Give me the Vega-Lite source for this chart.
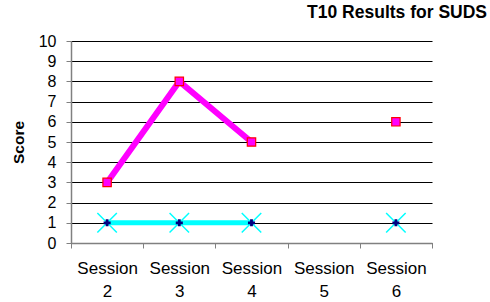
{
  "$schema": "https://vega.github.io/schema/vega-lite/v6.json",
  "width": 361,
  "height": 202,
  "autosize": "none",
  "padding": {"left": 71, "top": 41, "right": 58, "bottom": 59},
  "background": "white",
  "config": {
    "view": {"stroke": null},
    "font": "Liberation Sans"
  },
  "title": {
    "text": "T10 Results for SUDS",
    "anchor": "end",
    "frame": "group",
    "dx": 55,
    "offset": 12,
    "fontSize": 17.5,
    "fontWeight": "bold",
    "font": "Liberation Sans",
    "color": "black"
  },
  "data": {
    "values": [
      {"session": "Session 2", "series": "A", "seg": "A1", "value": 3},
      {"session": "Session 3", "series": "A", "seg": "A1", "value": 8},
      {"session": "Session 4", "series": "A", "seg": "A1", "value": 5},
      {"session": "Session 6", "series": "A", "seg": "A2", "value": 6},
      {"session": "Session 2", "series": "B", "seg": "B1", "value": 1},
      {"session": "Session 3", "series": "B", "seg": "B1", "value": 1},
      {"session": "Session 4", "series": "B", "seg": "B1", "value": 1},
      {"session": "Session 6", "series": "B", "seg": "B2", "value": 1}
    ]
  },
  "encoding": {
    "x": {
      "field": "session",
      "type": "ordinal",
      "scale": {"type": "band", "paddingInner": 0, "paddingOuter": 0,
        "domain": ["Session 2", "Session 3", "Session 4", "Session 5", "Session 6"]},
      "axis": {
        "title": null,
        "labelAngle": 0,
        "labelExpr": "datum.label ? ['Session', split(datum.label, ' ')[1]] : ''",
        "labelFontSize": 17,
        "labelColor": "black",
        "labelPadding": 12,
        "labelLineHeight": 23,
        "labelOverlap": false,
        "tickBand": "extent",
        "tickColor": "#808080",
        "tickSize": 5,
        "domainColor": "#808080",
        "domainWidth": 1.5
      }
    },
    "y": {
      "field": "value",
      "type": "quantitative",
      "scale": {"domain": [0, 10], "nice": false},
      "axis": {
        "title": "Score",
        "titleFontSize": 15.5,
        "titleFontWeight": "bold",
        "titleColor": "black",
        "titlePadding": 12,
        "values": [0, 1, 2, 3, 4, 5, 6, 7, 8, 9, 10],
        "labelFontSize": 16,
        "labelColor": "black",
        "labelPadding": 10,
        "tickColor": "#808080",
        "tickSize": 5,
        "domainColor": "#808080",
        "domainWidth": 1.5,
        "grid": true,
        "gridColor": "black",
        "gridWidth": 1
      }
    }
  },
  "layer": [
    {
      "transform": [{"filter": "datum.series == 'B'"}],
      "mark": {"type": "line", "color": "#00FFFF", "strokeWidth": 5},
      "encoding": {"detail": {"field": "seg"}}
    },
    {
      "transform": [{"filter": "datum.series == 'A'"}],
      "mark": {"type": "line", "color": "#FF00FF", "strokeWidth": 6},
      "encoding": {"detail": {"field": "seg"}}
    },
    {
      "transform": [{"filter": "datum.series == 'A'"}],
      "mark": {"type": "point", "shape": "square", "filled": true, "fill": "#FF00FF", "stroke": "#FF0000", "strokeWidth": 1.2, "size": 70, "opacity": 1}
    },
    {
      "transform": [{"filter": "datum.series == 'B'"}],
      "mark": {"type": "point", "shape": "M-1,-1L1,1M-1,1L1,-1", "filled": false, "stroke": "#00FFFF", "strokeWidth": 1.5, "size": 380, "opacity": 1}
    },
    {
      "transform": [{"filter": "datum.series == 'B'"}],
      "mark": {"type": "point", "shape": "cross", "filled": true, "fill": "#000080", "size": 50, "opacity": 1}
    }
  ]
}
